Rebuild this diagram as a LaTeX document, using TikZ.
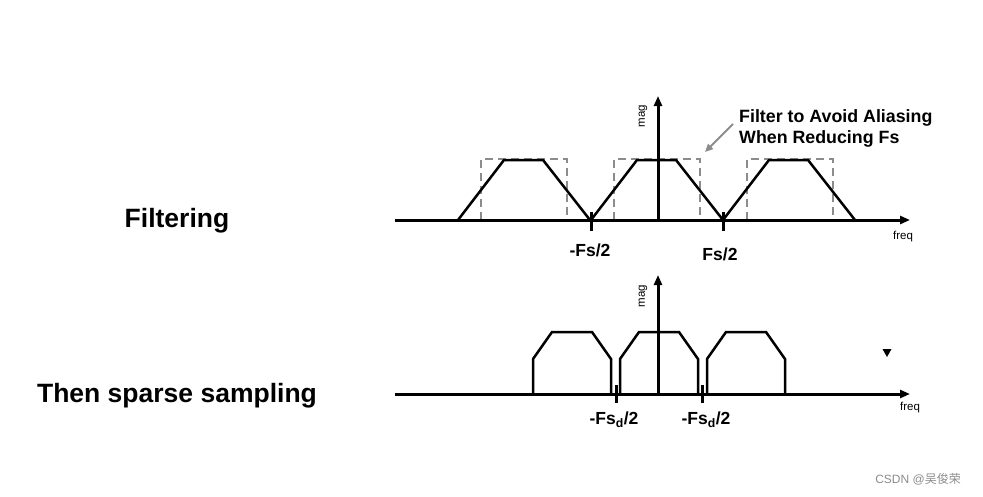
\documentclass[tikz,border=0pt]{standalone}
\usepackage{fontspec}
\setmainfont{Liberation Sans}
\newfontfamily\cjkfont{Noto Sans CJK SC}
\usetikzlibrary{arrows.meta}
\begin{document}
\begin{tikzpicture}[x=1pt,y=-1pt,
  axis/.style={line width=3pt,-{Triangle[length=10pt,width=8pt]}},
  spec/.style={line width=2.5pt,line join=miter},
  filt/.style={line width=2.4pt,draw=black!45,dash pattern=on 8pt off 5pt},
  tickmark/.style={line width=3pt},
  biglabel/.style={font=\fontsize{26.5}{30}\selectfont\bfseries,inner sep=0pt},
  fslabel/.style={font=\fontsize{17.5}{20}\selectfont\bfseries,inner sep=0pt},
  small/.style={font=\fontsize{11.5}{12}\selectfont,inner sep=0pt},
  note/.style={font=\fontsize{17.8}{21}\selectfont\bfseries,inner sep=0pt,anchor=base west}]
\useasboundingbox (0,0) rectangle (983,496);
% ---------- top panel ----------
\coordinate (t0) at (395,220);
\coordinate (t1) at (910,220);
\coordinate (tm0) at (658,220);
\coordinate (tm1) at (658,96);
% filter boxes (dashed)
\foreach \c in {524,657,790}{
  \draw[filt] (\c-43,220) -- (\c-43,159) -- (\c+43,159) -- (\c+43,220);
}
% spectra
\foreach \c in {524,657,789}{
  \draw[spec] (\c-66,220) -- (\c-20,160) -- (\c+19,160) -- (\c+66,220);
}
\draw[axis] (t0) -- (t1);
\draw[axis] (tm0) -- (tm1);
\draw[tickmark] (591,212) -- (591,231);
\draw[tickmark] (723,212) -- (723,231);
\node[small,rotate=90] (tmag) at (643,116) {mag};
\node[small] (tfreq) at (903,237) {freq};
\node[fslabel] (mfs) at (590,250) {-Fs/2};
\node[fslabel] (pfs) at (720,254) {Fs/2};
\node[note] (n1) at (739,122) {Filter to Avoid Aliasing};
\node[note] (n2) at (739,143) {When Reducing Fs};
\coordinate (arrend) at (705,152);
\draw[draw=black!45,line width=1.8pt,-{Triangle[length=8pt,width=7pt]}] (733,124) -- (arrend);
% ---------- bottom panel ----------
\coordinate (b0) at (395,394);
\coordinate (b1) at (910,394);
\coordinate (bm0) at (658,394);
\coordinate (bm1) at (658,275);
\foreach \c in {572,659,746}{
  \draw[spec] (\c-39,394) -- (\c-39,359) -- (\c-20,332) -- (\c+20,332) -- (\c+39,359) -- (\c+39,394);
}
\draw[axis] (b0) -- (b1);
\draw[axis] (bm0) -- (bm1);
\draw[tickmark] (616,385) -- (616,403);
\draw[tickmark] (702,385) -- (702,403);
\node[small,rotate=90] (bmag) at (643,296) {mag};
\node[small] (bfreq) at (910,408) {freq};
\node[fslabel] (mfsd) at (614,420) {-Fs$_{\mathbf{d}}$/2};
\node[fslabel] (pfsd) at (706,420) {-Fs$_{\mathbf{d}}$/2};
\fill (882.5,349) -- (891.5,349) -- (887,357) -- cycle;
% ---------- left labels ----------
\node[biglabel] (filt) at (177,221) {Filtering};
\node[biglabel] (samp) at (177,396) {Then sparse sampling};
% ---------- watermark ----------
\node[inner sep=0pt,text=black!45,font=\fontsize{12}{14}\selectfont] (wm) at (918,479) {CSDN @{\cjkfont 吴俊荣}};
\end{tikzpicture}
\end{document}
